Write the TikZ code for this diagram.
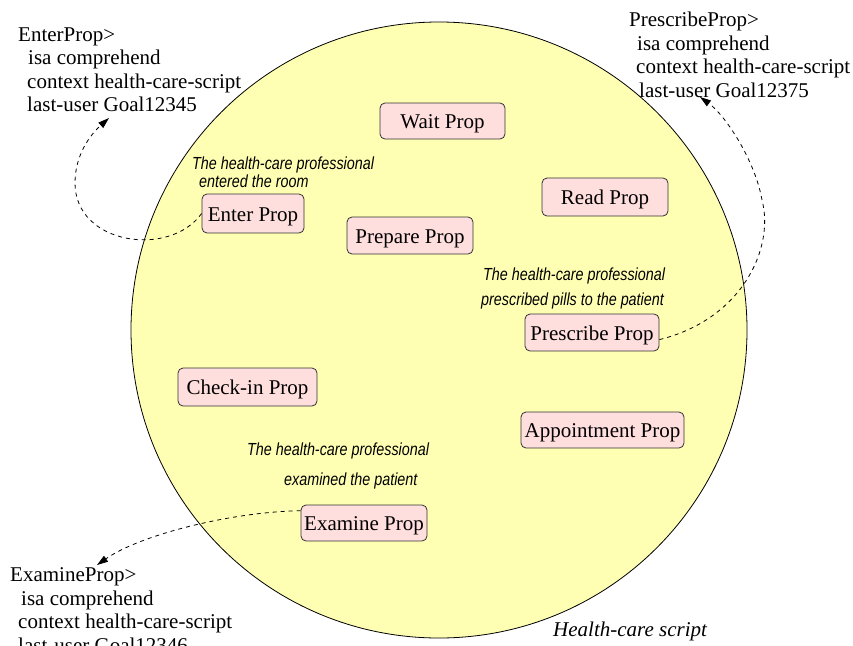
\documentclass[tikz,border=0pt]{standalone}
\usepackage{fontspec}
\setmainfont{Liberation Serif}
\newfontfamily\notefont[FakeStretch=0.82]{Liberation Sans}
\usetikzlibrary{arrows.meta}
\definecolor{scriptfill}{RGB}{255,255,180}
\definecolor{propfill}{RGB}{255,222,222}
\definecolor{propedge}{RGB}{50,50,50}
\begin{document}
\begin{tikzpicture}[x=1pt,y=-1pt,
  prop/.style={draw=propedge, fill=propfill, rounded corners=5pt, line width=0.8pt,
    inner sep=0pt, text height=15pt, text depth=0pt, font=\fontsize{21}{23.5}\selectfont},
  slot/.style={anchor=base west, inner sep=0pt, font=\fontsize{21}{23.5}\selectfont},
  note/.style={anchor=base west, inner sep=0pt, font=\notefont\itshape\fontsize{17.5}{20}\selectfont},
  link/.style={dash pattern=on 4pt off 4pt, line width=0.8pt,
    -{Triangle[length=11pt,width=7pt]}}]
\useasboundingbox (0,0) rectangle (853,645);
\clip (0,0) rectangle (853,645);
\fill[white] (0,0) rectangle (853,645);

% the script circle
\node[circle, draw, fill=scriptfill, line width=0.8pt, minimum size=616pt, inner sep=0pt] (script) at (439,330) {};
\node[anchor=base west, inner sep=0pt, font=\fontsize{21}{23.5}\selectfont\itshape] (scriptname) at (553,636) {Health-care script};

% propositions
\node[prop, minimum width=125pt, minimum height=36pt] (wait) at (442.5,121) {Wait Prop};
\node[prop, minimum width=102pt, minimum height=39pt] (enter) at (253,213.5) {Enter Prop};
\node[prop, minimum width=126pt, minimum height=37pt] (prepare) at (410,235.5) {Prepare Prop};
\node[prop, minimum width=126pt, minimum height=38pt] (read) at (605,197) {Read Prop};
\node[prop, minimum width=134pt, minimum height=37pt] (prescribe) at (592,332.5) {Prescribe Prop};
\node[prop, minimum width=139pt, minimum height=38pt] (checkin) at (247.5,387) {Check-in Prop};
\node[prop, minimum width=163pt, minimum height=36pt] (appointment) at (602.5,430) {Appointment Prop};
\node[prop, minimum width=126pt, minimum height=36pt] (examine) at (364,523) {Examine Prop};

% glosses
\node[note] (enterNoteA) at (192,169) {The health-care professional};
\node[note] (enterNoteB) at (199,187.5) {entered the room};
\node[note] (prescribeNoteA) at (483,280.5) {The health-care professional};
\node[note] (prescribeNoteB) at (481,305.5) {prescribed pills to the patient};
\node[note] (examineNoteA) at (247,455.5) {The health-care professional};
\node[note] (examineNoteB) at (284,485.5) {examined the patient};

% chunk listings
\node[slot] (enterA) at (18,41) {EnterProp>};
\node[slot] (enterB) at (28,64.5) {isa comprehend};
\node[slot] (enterC) at (27,88) {context health-care-script};
\node[slot] (enterD) at (27,111.5) {last-user Goal12345};

\node[slot] (prescribeA) at (629,26.5) {PrescribeProp>};
\node[slot] (prescribeB) at (637,50) {isa comprehend};
\node[slot] (prescribeC) at (636,73.5) {context health-care-script};
\node[slot] (prescribeD) at (639,97) {last-user Goal12375};

\node[slot] (examineA) at (10,581.5) {ExamineProp>};
\node[slot] (examineB) at (21,605) {isa comprehend};
\node[slot] (examineC) at (18,628.5) {context health-care-script};
\node[slot] (examineD) at (18,652) {last-user Goal12346};

% links from propositions to their chunks
\coordinate (enterTip) at (109,118);
\coordinate (prescribeTip) at (700,97);
\coordinate (examineTip) at (97,565);
\draw[link] (enter.west) .. controls (170,258) and (75,245) .. (75,183)
  .. controls (75,155) and (90,135) .. (enterTip);
\draw[link] (prescribe.-6) .. controls (740,320) and (775,250) .. (762,200)
  .. controls (755,160) and (725,115) .. (prescribeTip);
\draw[link] (examine.169) .. controls (230,512) and (140,535) .. (examineTip);
\end{tikzpicture}
\end{document}
